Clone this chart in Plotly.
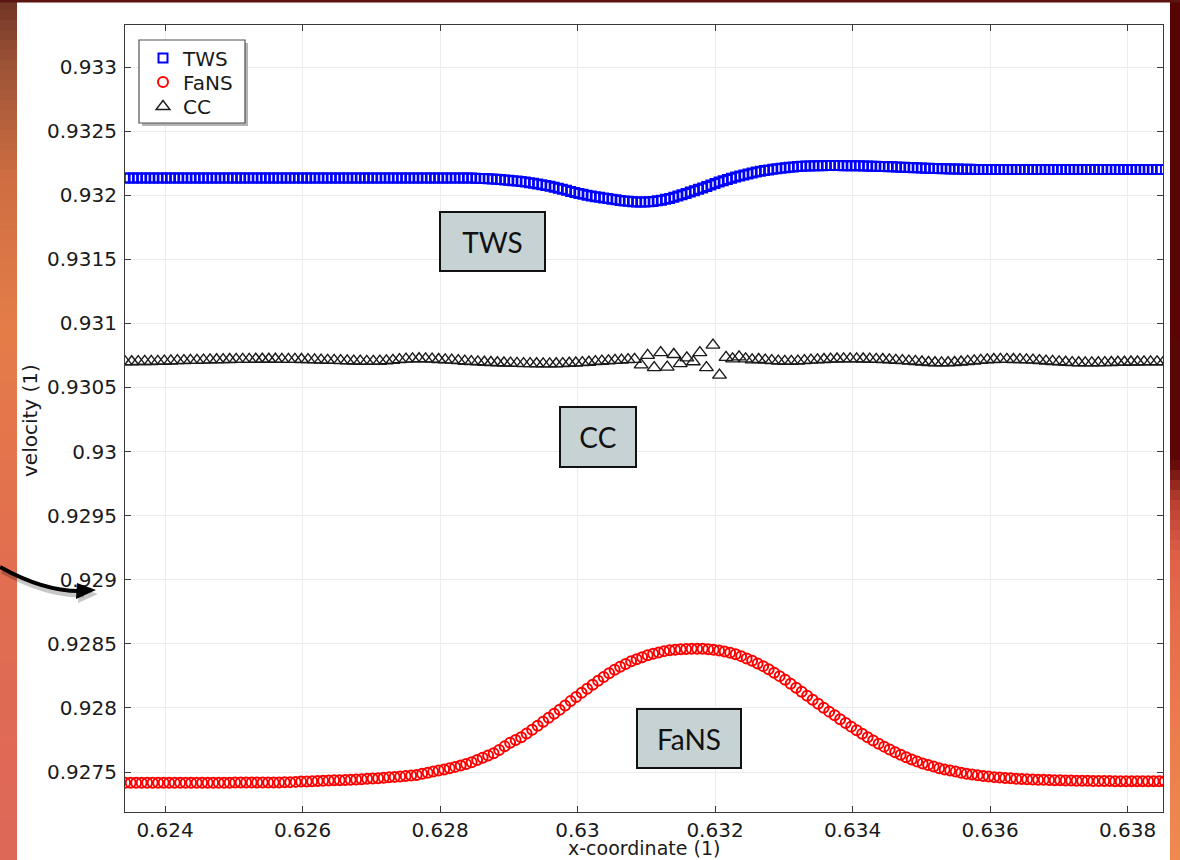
import plotly.graph_objects as go

# ---------------- data ----------------
tws_x = [
    0.62342, 0.62348, 0.62354, 0.62360, 0.62366, 0.62372, 0.62378, 0.62384, 0.62390, 0.62396,
    0.62402, 0.62408, 0.62414, 0.62420, 0.62426, 0.62432, 0.62438, 0.62444, 0.62450, 0.62456,
    0.62462, 0.62468, 0.62474, 0.62480, 0.62486, 0.62492, 0.62498, 0.62504, 0.62510, 0.62516,
    0.62522, 0.62528, 0.62534, 0.62540, 0.62546, 0.62552, 0.62558, 0.62564, 0.62570, 0.62576,
    0.62582, 0.62588, 0.62594, 0.62600, 0.62606, 0.62612, 0.62618, 0.62624, 0.62630, 0.62636,
    0.62642, 0.62648, 0.62654, 0.62660, 0.62666, 0.62672, 0.62678, 0.62684, 0.62690, 0.62696,
    0.62702, 0.62708, 0.62714, 0.62720, 0.62726, 0.62732, 0.62738, 0.62744, 0.62750, 0.62756,
    0.62762, 0.62768, 0.62774, 0.62780, 0.62786, 0.62792, 0.62798, 0.62804, 0.62810, 0.62816,
    0.62822, 0.62828, 0.62834, 0.62840, 0.62846, 0.62852, 0.62858, 0.62864, 0.62870, 0.62876,
    0.62882, 0.62888, 0.62894, 0.62900, 0.62906, 0.62912, 0.62918, 0.62924, 0.62930, 0.62936,
    0.62942, 0.62948, 0.62954, 0.62960, 0.62966, 0.62972, 0.62978, 0.62984, 0.62990, 0.62996,
    0.63002, 0.63008, 0.63014, 0.63020, 0.63026, 0.63032, 0.63038, 0.63044, 0.63050, 0.63056,
    0.63062, 0.63068, 0.63074, 0.63080, 0.63086, 0.63092, 0.63098, 0.63104, 0.63110, 0.63116,
    0.63122, 0.63128, 0.63134, 0.63140, 0.63146, 0.63152, 0.63158, 0.63164, 0.63170, 0.63176,
    0.63182, 0.63188, 0.63194, 0.63200, 0.63206, 0.63212, 0.63218, 0.63224, 0.63230, 0.63236,
    0.63242, 0.63248, 0.63254, 0.63260, 0.63266, 0.63272, 0.63278, 0.63284, 0.63290, 0.63296,
    0.63302, 0.63308, 0.63314, 0.63320, 0.63326, 0.63332, 0.63338, 0.63344, 0.63350, 0.63356,
    0.63362, 0.63368, 0.63374, 0.63380, 0.63386, 0.63392, 0.63398, 0.63404, 0.63410, 0.63416,
    0.63422, 0.63428, 0.63434, 0.63440, 0.63446, 0.63452, 0.63458, 0.63464, 0.63470, 0.63476,
    0.63482, 0.63488, 0.63494, 0.63500, 0.63506, 0.63512, 0.63518, 0.63524, 0.63530, 0.63536,
    0.63542, 0.63548, 0.63554, 0.63560, 0.63566, 0.63572, 0.63578, 0.63584, 0.63590, 0.63596,
    0.63602, 0.63608, 0.63614, 0.63620, 0.63626, 0.63632, 0.63638, 0.63644, 0.63650, 0.63656,
    0.63662, 0.63668, 0.63674, 0.63680, 0.63686, 0.63692, 0.63698, 0.63704, 0.63710, 0.63716,
    0.63722, 0.63728, 0.63734, 0.63740, 0.63746, 0.63752, 0.63758, 0.63764, 0.63770, 0.63776,
    0.63782, 0.63788, 0.63794, 0.63800, 0.63806, 0.63812, 0.63818, 0.63824, 0.63830, 0.63836,
    0.63842, 0.63848,
]
tws_y = [
    0.932134, 0.932134, 0.932134, 0.932134, 0.932134, 0.932134, 0.932134, 0.932134, 0.932134, 0.932134,
    0.932134, 0.932134, 0.932134, 0.932134, 0.932134, 0.932134, 0.932134, 0.932134, 0.932134, 0.932134,
    0.932134, 0.932134, 0.932134, 0.932134, 0.932134, 0.932134, 0.932134, 0.932134, 0.932134, 0.932134,
    0.932134, 0.932134, 0.932134, 0.932134, 0.932134, 0.932134, 0.932134, 0.932134, 0.932134, 0.932134,
    0.932134, 0.932134, 0.932134, 0.932134, 0.932134, 0.932134, 0.932134, 0.932134, 0.932134, 0.932134,
    0.932134, 0.932134, 0.932134, 0.932134, 0.932134, 0.932134, 0.932134, 0.932134, 0.932134, 0.932134,
    0.932134, 0.932134, 0.932134, 0.932134, 0.932134, 0.932134, 0.932134, 0.932134, 0.932134, 0.932134,
    0.932134, 0.932134, 0.932134, 0.932134, 0.932134, 0.932134, 0.932134, 0.932134, 0.932134, 0.932134,
    0.932134, 0.932134, 0.932134, 0.932134, 0.932134, 0.932133, 0.932131, 0.932130, 0.932128, 0.932126,
    0.932124, 0.932122, 0.932119, 0.932116, 0.932113, 0.932110, 0.932106, 0.932102, 0.932097, 0.932093,
    0.932088, 0.932082, 0.932076, 0.932069, 0.932062, 0.932055, 0.932047, 0.932038, 0.932029, 0.932021,
    0.932014, 0.932007, 0.932000, 0.931994, 0.931988, 0.931983, 0.931979, 0.931974, 0.931968, 0.931964,
    0.931959, 0.931955, 0.931952, 0.931949, 0.931947, 0.931946, 0.931947, 0.931949, 0.931951, 0.931956,
    0.931961, 0.931968, 0.931975, 0.931984, 0.931993, 0.932003, 0.932013, 0.932024, 0.932035, 0.932046,
    0.932057, 0.932068, 0.932080, 0.932092, 0.932103, 0.932113, 0.932123, 0.932133, 0.932142, 0.932150,
    0.932158, 0.932166, 0.932173, 0.932180, 0.932187, 0.932192, 0.932197, 0.932202, 0.932206, 0.932210,
    0.932214, 0.932217, 0.932220, 0.932223, 0.932225, 0.932227, 0.932228, 0.932229, 0.932230, 0.932230,
    0.932231, 0.932231, 0.932231, 0.932231, 0.932230, 0.932230, 0.932230, 0.932229, 0.932229, 0.932228,
    0.932227, 0.932226, 0.932225, 0.932224, 0.932223, 0.932222, 0.932221, 0.932219, 0.932218, 0.932217,
    0.932216, 0.932215, 0.932214, 0.932213, 0.932211, 0.932210, 0.932209, 0.932208, 0.932207, 0.932206,
    0.932205, 0.932204, 0.932204, 0.932203, 0.932202, 0.932202, 0.932201, 0.932201, 0.932200, 0.932200,
    0.932200, 0.932200, 0.932200, 0.932200, 0.932200, 0.932200, 0.932200, 0.932200, 0.932200, 0.932200,
    0.932200, 0.932200, 0.932200, 0.932200, 0.932200, 0.932200, 0.932200, 0.932200, 0.932200, 0.932200,
    0.932200, 0.932200, 0.932200, 0.932200, 0.932200, 0.932200, 0.932200, 0.932200, 0.932200, 0.932200,
    0.932200, 0.932200, 0.932200, 0.932200, 0.932200, 0.932200, 0.932200, 0.932200, 0.932200, 0.932200,
    0.932200, 0.932200,
]

fans_x = [
    0.62342, 0.62350, 0.62358, 0.62366, 0.62374, 0.62382, 0.62390, 0.62398, 0.62406, 0.62414,
    0.62422, 0.62430, 0.62438, 0.62446, 0.62454, 0.62462, 0.62470, 0.62478, 0.62486, 0.62494,
    0.62502, 0.62510, 0.62518, 0.62526, 0.62534, 0.62542, 0.62550, 0.62558, 0.62566, 0.62574,
    0.62582, 0.62590, 0.62598, 0.62606, 0.62614, 0.62622, 0.62630, 0.62638, 0.62646, 0.62654,
    0.62662, 0.62670, 0.62678, 0.62686, 0.62694, 0.62702, 0.62710, 0.62718, 0.62726, 0.62734,
    0.62742, 0.62750, 0.62758, 0.62766, 0.62774, 0.62782, 0.62790, 0.62798, 0.62806, 0.62814,
    0.62822, 0.62830, 0.62838, 0.62846, 0.62854, 0.62862, 0.62870, 0.62878, 0.62886, 0.62894,
    0.62902, 0.62910, 0.62918, 0.62926, 0.62934, 0.62942, 0.62950, 0.62958, 0.62966, 0.62974,
    0.62982, 0.62990, 0.62998, 0.63006, 0.63014, 0.63022, 0.63030, 0.63038, 0.63046, 0.63054,
    0.63062, 0.63070, 0.63078, 0.63086, 0.63094, 0.63102, 0.63110, 0.63118, 0.63126, 0.63134,
    0.63142, 0.63150, 0.63158, 0.63166, 0.63174, 0.63182, 0.63190, 0.63198, 0.63206, 0.63214,
    0.63222, 0.63230, 0.63238, 0.63246, 0.63254, 0.63262, 0.63270, 0.63278, 0.63286, 0.63294,
    0.63302, 0.63310, 0.63318, 0.63326, 0.63334, 0.63342, 0.63350, 0.63358, 0.63366, 0.63374,
    0.63382, 0.63390, 0.63398, 0.63406, 0.63414, 0.63422, 0.63430, 0.63438, 0.63446, 0.63454,
    0.63462, 0.63470, 0.63478, 0.63486, 0.63494, 0.63502, 0.63510, 0.63518, 0.63526, 0.63534,
    0.63542, 0.63550, 0.63558, 0.63566, 0.63574, 0.63582, 0.63590, 0.63598, 0.63606, 0.63614,
    0.63622, 0.63630, 0.63638, 0.63646, 0.63654, 0.63662, 0.63670, 0.63678, 0.63686, 0.63694,
    0.63702, 0.63710, 0.63718, 0.63726, 0.63734, 0.63742, 0.63750, 0.63758, 0.63766, 0.63774,
    0.63782, 0.63790, 0.63798, 0.63806, 0.63814, 0.63822, 0.63830, 0.63838, 0.63846, 0.63854,
]
fans_y = [
    0.927417, 0.927417, 0.927417, 0.927417, 0.927417, 0.927417, 0.927417, 0.927417, 0.927417, 0.927417,
    0.927417, 0.927417, 0.927417, 0.927417, 0.927417, 0.927417, 0.927417, 0.927417, 0.927417, 0.927417,
    0.927418, 0.927418, 0.927418, 0.927418, 0.927418, 0.927418, 0.927419, 0.927419, 0.927419, 0.927420,
    0.927421, 0.927423, 0.927425, 0.927426, 0.927428, 0.927429, 0.927431, 0.927433, 0.927435, 0.927436,
    0.927438, 0.927440, 0.927442, 0.927444, 0.927447, 0.927450, 0.927452, 0.927456, 0.927459, 0.927462,
    0.927464, 0.927468, 0.927472, 0.927477, 0.927486, 0.927495, 0.927503, 0.927511, 0.927520, 0.927530,
    0.927540, 0.927550, 0.927563, 0.927577, 0.927594, 0.927612, 0.927629, 0.927647, 0.927671, 0.927700,
    0.927729, 0.927750, 0.927772, 0.927801, 0.927830, 0.927861, 0.927892, 0.927924, 0.927955, 0.927986,
    0.928019, 0.928053, 0.928086, 0.928119, 0.928150, 0.928181, 0.928212, 0.928242, 0.928271, 0.928297,
    0.928322, 0.928343, 0.928364, 0.928380, 0.928396, 0.928410, 0.928423, 0.928433, 0.928443, 0.928449,
    0.928454, 0.928457, 0.928460, 0.928461, 0.928462, 0.928461, 0.928458, 0.928453, 0.928448, 0.928440,
    0.928431, 0.928418, 0.928404, 0.928386, 0.928368, 0.928347, 0.928326, 0.928301, 0.928275, 0.928248,
    0.928220, 0.928189, 0.928158, 0.928127, 0.928095, 0.928064, 0.928033, 0.928002, 0.927971, 0.927942,
    0.927912, 0.927883, 0.927854, 0.927826, 0.927799, 0.927772, 0.927745, 0.927721, 0.927698, 0.927676,
    0.927655, 0.927635, 0.927616, 0.927598, 0.927581, 0.927567, 0.927554, 0.927542, 0.927530, 0.927520,
    0.927511, 0.927503, 0.927495, 0.927487, 0.927480, 0.927474, 0.927468, 0.927464, 0.927460, 0.927457,
    0.927454, 0.927451, 0.927448, 0.927446, 0.927444, 0.927442, 0.927440, 0.927439, 0.927437, 0.927436,
    0.927435, 0.927434, 0.927433, 0.927432, 0.927431, 0.927431, 0.927430, 0.927430, 0.927429, 0.927429,
    0.927428, 0.927428, 0.927428, 0.927428, 0.927428, 0.927428, 0.927428, 0.927428, 0.927428, 0.927428,
]

cc_x = [
    0.623420, 0.623515, 0.623610, 0.623705, 0.623800, 0.623895, 0.623990, 0.624085, 0.624180, 0.624275,
    0.624370, 0.624465, 0.624560, 0.624655, 0.624750, 0.624845, 0.624940, 0.625035, 0.625130, 0.625225,
    0.625320, 0.625415, 0.625510, 0.625605, 0.625700, 0.625795, 0.625890, 0.625985, 0.626080, 0.626175,
    0.626270, 0.626365, 0.626460, 0.626555, 0.626650, 0.626745, 0.626840, 0.626935, 0.627030, 0.627125,
    0.627220, 0.627315, 0.627410, 0.627505, 0.627600, 0.627695, 0.627790, 0.627885, 0.627980, 0.628075,
    0.628170, 0.628265, 0.628360, 0.628455, 0.628550, 0.628645, 0.628740, 0.628835, 0.628930, 0.629025,
    0.629120, 0.629215, 0.629310, 0.629405, 0.629500, 0.629595, 0.629690, 0.629785, 0.629880, 0.629975,
    0.630070, 0.630165, 0.630260, 0.630355, 0.630450, 0.630545, 0.630640, 0.630735, 0.630830, 0.630925,
    0.631020, 0.631115, 0.631210, 0.631305, 0.631400, 0.631495, 0.631590, 0.631685, 0.631780, 0.631875,
    0.631970, 0.632065, 0.632160, 0.632255, 0.632350, 0.632445, 0.632540, 0.632635, 0.632730, 0.632825,
    0.632920, 0.633015, 0.633110, 0.633205, 0.633300, 0.633395, 0.633490, 0.633585, 0.633680, 0.633775,
    0.633870, 0.633965, 0.634060, 0.634155, 0.634250, 0.634345, 0.634440, 0.634535, 0.634630, 0.634725,
    0.634820, 0.634915, 0.635010, 0.635105, 0.635200, 0.635295, 0.635390, 0.635485, 0.635580, 0.635675,
    0.635770, 0.635865, 0.635960, 0.636055, 0.636150, 0.636245, 0.636340, 0.636435, 0.636530, 0.636625,
    0.636720, 0.636815, 0.636910, 0.637005, 0.637100, 0.637195, 0.637290, 0.637385, 0.637480, 0.637575,
    0.637670, 0.637765, 0.637860, 0.637955, 0.638050, 0.638145, 0.638240, 0.638335, 0.638430, 0.638525,
]
cc_y = [
    0.930700, 0.930701, 0.930702, 0.930703, 0.930703, 0.930704, 0.930705, 0.930707, 0.930709, 0.930710,
    0.930711, 0.930711, 0.930713, 0.930715, 0.930716, 0.930717, 0.930718, 0.930719, 0.930719, 0.930719,
    0.930720, 0.930720, 0.930720, 0.930720, 0.930719, 0.930719, 0.930719, 0.930718, 0.930717, 0.930715,
    0.930713, 0.930712, 0.930711, 0.930709, 0.930708, 0.930706, 0.930705, 0.930704, 0.930704, 0.930705,
    0.930708, 0.930712, 0.930717, 0.930721, 0.930723, 0.930724, 0.930723, 0.930721, 0.930718, 0.930715,
    0.930713, 0.930709, 0.930705, 0.930702, 0.930700, 0.930697, 0.930695, 0.930693, 0.930691, 0.930690,
    0.930688, 0.930686, 0.930686, 0.930685, 0.930684, 0.930684, 0.930685, 0.930686, 0.930689, 0.930691,
    0.930694, 0.930697, 0.930702, 0.930705, 0.930708, 0.930711, 0.930713, 0.930717, 0.930719, 0.930676,
    0.930750, 0.930655, 0.930772, 0.930659, 0.930757, 0.930686, 0.930731, 0.930700, 0.930772, 0.930655,
    0.930830, 0.930596, 0.930735, 0.930723, 0.930739, 0.930723, 0.930715, 0.930718, 0.930713, 0.930709,
    0.930706, 0.930704, 0.930704, 0.930706, 0.930709, 0.930713, 0.930715, 0.930718, 0.930721, 0.930722,
    0.930723, 0.930723, 0.930723, 0.930722, 0.930721, 0.930719, 0.930718, 0.930715, 0.930712, 0.930709,
    0.930706, 0.930703, 0.930699, 0.930695, 0.930693, 0.930692, 0.930693, 0.930695, 0.930699, 0.930703,
    0.930707, 0.930711, 0.930715, 0.930718, 0.930719, 0.930719, 0.930718, 0.930717, 0.930715, 0.930713,
    0.930710, 0.930706, 0.930703, 0.930700, 0.930697, 0.930694, 0.930693, 0.930692, 0.930692, 0.930693,
    0.930694, 0.930695, 0.930697, 0.930697, 0.930699, 0.930699, 0.930700, 0.930700, 0.930700, 0.930700,
]

x_tickvals = [0.624, 0.626, 0.628, 0.630, 0.632, 0.634, 0.636, 0.638]
x_ticktext = ["0.624", "0.626", "0.628", "0.63", "0.632", "0.634", "0.636", "0.638"]
y_tickvals = [0.9275, 0.928, 0.9285, 0.929, 0.9295, 0.930, 0.9305, 0.931, 0.9315, 0.932, 0.9325, 0.933]
y_ticktext = ["0.9275", "0.928", "0.9285", "0.929", "0.9295", "0.93", "0.9305", "0.931",
              "0.9315", "0.932", "0.9325", "0.933"]

series_names = ["TWS", "FaNS", "CC"]
box_labels = ["TWS", "CC", "FaNS"]
x_title = "x-coordinate (1)"
y_title = "velocity (1)"

# ---------------- layout geometry ----------------
W, H = 1180, 860
ML, MR, MT, MB = 125, 17, 25, 48
PW, PH = W - ML - MR, H - MT - MB


def px(x):
    return (x - ML) / PW


def py(y):
    return (H - MB - y) / PH


TEXT = "#1a1a1a"
TICKFONT = dict(family="DejaVu Sans", size=20, color=TEXT)
LEGFONT = dict(family="DejaVu Sans", size=20, color=TEXT)

fig = go.Figure()
fig.add_trace(go.Scatter(
    x=tws_x, y=tws_y, name=series_names[0], mode="markers", legend="legend",
    marker=dict(symbol="square-open", size=9, color="#0000ff", line=dict(width=2, color="#0000ff")),
))
fig.add_trace(go.Scatter(
    x=fans_x, y=fans_y, name=series_names[1], mode="markers", legend="legend2",
    marker=dict(symbol="circle-open", size=10, color="#ff0000", line=dict(width=2, color="#ff0000")),
))
fig.add_trace(go.Scatter(
    x=cc_x, y=cc_y, name=series_names[2], mode="markers", legend="legend3",
    marker=dict(symbol="triangle-up-open", size=12, color="#1a1a1a", line=dict(width=1.4, color="#1a1a1a")),
))

axis_common = dict(
    showline=True, linecolor="#3a3a3a", linewidth=1.2, mirror="ticks",
    ticks="inside", ticklen=6, tickwidth=1.2, tickcolor="#3a3a3a",
    showgrid=True, gridcolor="#ececec", gridwidth=1, zeroline=False,
    tickfont=TICKFONT, automargin=False,
)

fig.update_xaxes(range=[0.623418, 0.638516], tickvals=x_tickvals, ticktext=x_ticktext,
                 ticklabelstandoff=0, **axis_common)
fig.update_yaxes(range=[0.927188, 0.9333277], tickvals=y_tickvals, ticktext=y_ticktext,
                 ticklabelstandoff=3, **axis_common)

shapes = []


def blend(c0, c1, t):
    a = [int(c0[i:i + 2], 16) for i in (1, 3, 5)]
    b = [int(c1[i:i + 2], 16) for i in (1, 3, 5)]
    return "#" + "".join(f"{round(a[i] + (b[i] - a[i]) * t):02x}" for i in range(3))


def strip(x0, x1, stops, step=10):
    # vertical colour ramp for the slide background seen around the white panel
    for (ya, ca), (yb, cb) in zip(stops[:-1], stops[1:]):
        y = ya
        while y < yb:
            y2 = min(y + step, yb)
            t = ((y + y2) / 2 - ya) / (yb - ya)
            shapes.append(dict(type="rect", xref="paper", yref="paper", x0=px(x0), x1=px(x1),
                               y0=py(y2 + 0.5), y1=py(y), fillcolor=blend(ca, cb, t),
                               line=dict(width=0), layer="above"))
            y = y2


strip(0, 17, [(0, "#6e3324"), (60, "#9a5235"), (180, "#cf6e42"), (330, "#e47c48"),
              (520, "#e2704e"), (700, "#df6a54"), (860, "#de6858")])
strip(1170, 1180, [(0, "#560404"), (460, "#5a0606"), (500, "#b83e30"), (560, "#e0624a"),
                   (700, "#ea784e"), (860, "#f08a50")])
shapes.append(dict(type="rect", xref="paper", yref="paper", x0=px(0), x1=px(1180), y0=py(2.5), y1=py(0),
                   fillcolor="#5a1510", line=dict(width=0), layer="above"))

# legend frame with drop shadow
shapes.append(dict(type="rect", xref="paper", yref="paper", x0=px(142), x1=px(248), y0=py(126), y1=py(43),
                   fillcolor="#b4b4b4", line=dict(width=0), layer="above"))
shapes.append(dict(type="rect", xref="paper", yref="paper", x0=px(139), x1=px(245), y0=py(123), y1=py(40),
                   fillcolor="white", line=dict(width=1.2, color="#505050"), layer="above"))


# curved arrow (slide decoration) with shadow
def arrow_path(dx, dy):
    return (f"M {px(0 + dx)},{py(567 + dy)} Q {px(45 + dx)},{py(592 + dy)} {px(82 + dx)},{py(591 + dy)}")


def head_path(dx, dy):
    return (f"M {px(77 + dx)},{py(583 + dy)} L {px(96 + dx)},{py(590 + dy)} "
            f"L {px(76 + dx)},{py(599 + dy)} Z")


shapes.append(dict(type="path", xref="paper", yref="paper", path=arrow_path(2, 4),
                   line=dict(color="rgba(0,0,0,0.22)", width=5), layer="above"))
shapes.append(dict(type="path", xref="paper", yref="paper", path=head_path(2, 4),
                   fillcolor="rgba(0,0,0,0.22)", line=dict(width=0), layer="above"))
shapes.append(dict(type="path", xref="paper", yref="paper", path=arrow_path(0, 0),
                   line=dict(color="#000000", width=4), layer="above"))
shapes.append(dict(type="path", xref="paper", yref="paper", path=head_path(0, 0),
                   fillcolor="#000000", line=dict(width=0), layer="above"))

annotations = []
# labelled boxes
for text, cx, cy, w, h in [(box_labels[0], 492, 241, 103, 57),
                           (box_labels[1], 598, 437, 74, 58),
                           (box_labels[2], 689, 738.5, 102, 57)]:
    annotations.append(dict(
        text=text, xref="paper", yref="paper", x=px(cx), y=py(cy), xanchor="center", yanchor="middle",
        showarrow=False, width=w, height=h, valign="middle", align="center",
        bgcolor="#c6d2d3", bordercolor="#111111", borderwidth=2, borderpad=0,
        font=dict(family="Lato", size=28, color="#111111"),
    ))
# axis titles
annotations.append(dict(text=x_title, xref="paper", yref="paper", x=px(644), y=py(848),
                        xanchor="center", yanchor="middle", showarrow=False,
                        font=dict(family="DejaVu Sans", size=19, color=TEXT)))
annotations.append(dict(text=y_title, xref="paper", yref="paper", x=px(30), y=py(421),
                        xanchor="center", yanchor="middle", showarrow=False, textangle=-90,
                        font=dict(family="DejaVu Sans", size=20, color=TEXT)))

legend_common = dict(xanchor="left", yanchor="middle", bgcolor="rgba(0,0,0,0)", borderwidth=0,
                     font=LEGFONT, itemwidth=30, tracegroupgap=0)

fig.update_layout(
    width=W, height=H,
    margin=dict(l=ML, r=MR, t=MT, b=MB, pad=0),
    paper_bgcolor="white", plot_bgcolor="white",
    showlegend=True,
    legend=dict(x=px(143), y=py(58), **legend_common),
    legend2=dict(x=px(143), y=py(82), **legend_common),
    legend3=dict(x=px(143), y=py(106.5), **legend_common),
    shapes=shapes,
    annotations=annotations,
    hovermode=False,
)

fig.write_html("out.html")
